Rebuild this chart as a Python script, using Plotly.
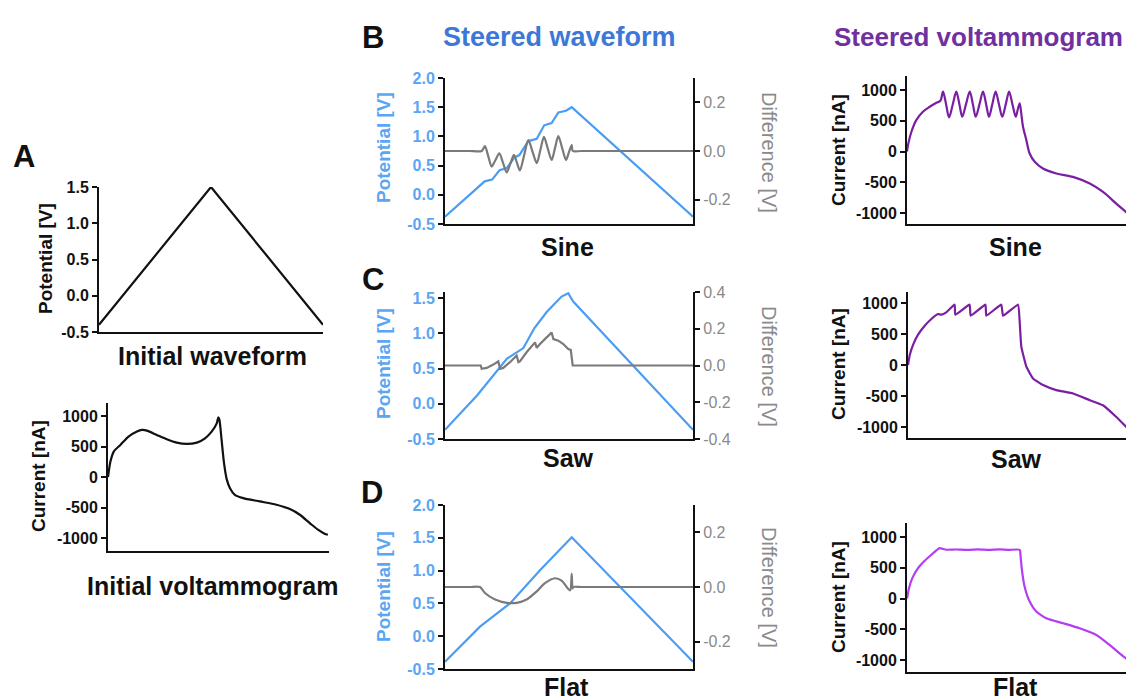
import plotly.graph_objects as go

# ---------------- data (x = normalised time 0..1) ----------------
init_wave_x = [0.0, 0.5, 1.0]
init_wave_y = [-0.4, 1.5, -0.4]

init_volt_x = [0.0, 0.011, 0.026, 0.056, 0.093, 0.131, 0.153, 0.176, 0.221, 0.266, 0.311, 0.356,
               0.402, 0.439, 0.469, 0.492, 0.499, 0.504, 0.514, 0.525, 0.537, 0.552, 0.574, 0.612,
               0.687, 0.762, 0.823, 0.868, 0.913, 0.950, 0.980, 0.995]
init_volt_y = [0, 253, 417, 526, 662, 744, 771, 760, 689, 619, 564, 542,
               564, 635, 744, 880, 978, 940, 608, 226, -35, -183, -292, -346,
               -400, -455, -526, -619, -755, -864, -929, -946]

# Steered waveforms: potential (left axis) and difference (right axis)
sine_pot_x = [0, 0.16, 0.19, 0.22, 0.25, 0.28, 0.30, 0.336, 0.37, 0.40, 0.43, 0.457, 0.488, 0.511, 1.0]
sine_pot_y = [-0.375, 0.23, 0.26, 0.42, 0.46, 0.64, 0.68, 0.92, 0.96, 1.19, 1.23, 1.41, 1.44, 1.50, -0.375]
sine_diff_x = [0, 0.05, 0.10, 0.148, 0.161, 0.1745, 0.188, 0.2035, 0.219, 0.234, 0.249, 0.2635,
               0.278, 0.290, 0.302, 0.319, 0.336, 0.353, 0.370, 0.3845, 0.399, 0.4145, 0.430,
               0.4435, 0.457, 0.4725, 0.488, 0.4995, 0.511, 0.515, 0.55, 0.70, 0.85, 1.0]
sine_diff_y = [0, 0, 0, 0, 0.020, -0.022, -0.064, -0.037, -0.010, -0.049, -0.088, -0.052,
               -0.016, -0.048, -0.080, -0.018, 0.045, -0.003, -0.050, 0.004, 0.058, 0.010, -0.037,
               0.012, 0.061, 0.012, -0.037, -0.006, 0.024, 0, 0, 0, 0, 0]

saw_pot_x = [0, 0.13, 0.25, 0.316, 0.36, 0.41, 0.47, 0.497, 0.51, 0.517, 1.0]
saw_pot_y = [-0.37, 0.12, 0.64, 0.79, 1.07, 1.30, 1.52, 1.567, 1.49, 1.45, -0.37]
saw_diff_x = [0, 0.144, 0.148, 0.168, 0.195, 0.215, 0.222, 0.235, 0.262, 0.289, 0.296, 0.302,
              0.329, 0.350, 0.363, 0.370, 0.383, 0.410, 0.430, 0.437, 0.457, 0.477, 0.497,
              0.507, 0.511, 0.515, 1.0]
saw_diff_y = [0, 0, -0.018, -0.013, 0.005, 0.023, -0.018, -0.013, 0.018, 0.054, 0.018, 0.022,
              0.072, 0.108, 0.126, 0.096, 0.117, 0.153, 0.180, 0.144, 0.135, 0.117, 0.090,
              0.085, 0.054, 0, 0]

flat_pot_x = [0, 0.141, 0.262, 0.383, 0.511, 1.0]
flat_pot_y = [-0.389, 0.145, 0.50, 1.006, 1.507, -0.389]
flat_diff_x = [0, 0.05, 0.10, 0.141, 0.161, 0.202, 0.249, 0.289, 0.329, 0.370, 0.403, 0.444, 0.470,
               0.497, 0.505, 0.511, 0.514, 0.517, 0.55, 0.70, 0.85, 1.0]
flat_diff_y = [0, 0, 0, 0, -0.022, -0.046, -0.058, -0.058, -0.046, -0.016, 0.014, 0.032, 0.023,
               -0.007, -0.012, 0.048, -0.005, 0, 0, 0, 0, 0]

# Steered voltammograms (current, nA)
sine_volt_x = [0, 0.006, 0.020, 0.042, 0.072, 0.103, 0.133, 0.151, 0.163, 0.177, 0.190, 0.207,
               0.223, 0.237, 0.250, 0.267, 0.284, 0.298, 0.311, 0.328, 0.344, 0.358, 0.371,
               0.386, 0.401, 0.416, 0.431, 0.447, 0.462, 0.477, 0.492, 0.501, 0.510, 0.517,
               0.525, 0.540, 0.555, 0.578, 0.615, 0.676, 0.751, 0.827, 0.887, 0.947, 1.0]
sine_volt_y = [0, 130, 321, 511, 647, 728, 793, 826, 973, 765, 554, 765,
               973, 770, 565, 770, 973, 770, 565, 770, 973, 770, 565,
               770, 973, 770, 565, 770, 973, 770, 565, 680, 783, 620,
               402, 185, -32, -168, -277, -358, -413, -522, -658, -848, -1011]

saw_volt_x = [0, 0.008, 0.023, 0.045, 0.076, 0.106, 0.136, 0.152, 0.174, 0.212, 0.215, 0.280,
              0.285, 0.352, 0.356, 0.424, 0.432, 0.500, 0.508, 0.515, 0.538, 0.568, 0.614,
              0.674, 0.750, 0.826, 0.886, 0.947, 1.0]
saw_volt_y = [0, 162, 324, 486, 632, 741, 822, 811, 849, 973, 811, 973,
              795, 973, 795, 973, 795, 973, 676, 297, -27, -216, -324,
              -405, -459, -567, -649, -838, -1027]

flat_volt_x = [0, 0.009, 0.024, 0.050, 0.080, 0.110, 0.140, 0.148, 0.178, 0.22, 0.27, 0.32,
               0.37, 0.42, 0.46, 0.510, 0.514, 0.520, 0.532, 0.555, 0.585, 0.630, 0.706,
               0.781, 0.857, 0.917, 0.962, 1.0]
flat_volt_y = [0, 168, 331, 495, 614, 712, 804, 820, 793, 797, 790, 800,
               792, 798, 790, 793, 685, 467, 196, -49, -212, -321, -402,
               -484, -592, -755, -891, -1000]

# tick labels
pot_ticks_a = [-0.5, 0.0, 0.5, 1.0, 1.5]
pot_ticks_bd = [-0.5, 0.0, 0.5, 1.0, 1.5, 2.0]
pot_ticks_c = [-0.5, 0.0, 0.5, 1.0, 1.5]
diff_ticks_bd = [-0.2, 0.0, 0.2]
diff_ticks_c = [-0.4, -0.2, 0.0, 0.2, 0.4]
cur_ticks = [-1000, -500, 0, 500, 1000]

# ---------------- style ----------------
W, H = 1134, 699
OFF = 8  # the page body margin offsets the figure by 8 px
FONT = "Liberation Sans, Arial, sans-serif"
BLACK = "#111111"
BLUE = "#4A9DF2"
BLUE_TXT = "#5AA6F2"
GRAY = "#7A7A7A"
GRAY_TXT = "#8A8A8A"
PURPLE = "#7A1FA2"
FLATPURPLE = "#B43CF2"


def fx(px):
    return (px - OFF) / W


def fy(py):
    return 1 - (py - OFF) / H


def lab(v):
    return "%.1f" % v


fig = go.Figure()
layout = dict(width=W, height=H, margin=dict(l=0, r=0, t=0, b=0, pad=0, autoexpand=False),
              paper_bgcolor="white", plot_bgcolor="white", showlegend=False,
              font=dict(family=FONT, color=BLACK))


def xaxis(name, x0, x1, anchor):
    layout[name] = dict(domain=[fx(x0), fx(x1)], range=[0, 1], anchor=anchor, automargin=False,
                        showline=True, linecolor=BLACK, linewidth=2, showgrid=False,
                        zeroline=False, showticklabels=False, ticks="", fixedrange=True)


def yaxis(name, y0, y1, rng, tv, tt, anchor, color=BLACK, side="left", overlay=None,
          bold=True, size=16):
    d = dict(domain=[fy(y1), fy(y0)], range=rng, anchor=anchor, side=side, automargin=False,
             showline=True, linecolor=BLACK, linewidth=2, showgrid=False, zeroline=False,
             ticks="outside", ticklen=5, tickwidth=2, tickcolor=BLACK,
             tickvals=tv, ticktext=tt,
             tickfont=dict(family=FONT, size=size, color=color,
                           weight="bold" if bold else "normal"))
    if overlay:
        d["overlaying"] = overlay
    layout[name] = d


def line(x, y, xa, ya, color, shape="linear", width=2.2, smoothing=0.6):
    fig.add_trace(go.Scatter(x=x, y=y, xaxis=xa, yaxis=ya, mode="lines",
                             line=dict(color=color, width=width, shape=shape,
                                       smoothing=smoothing if shape == "spline" else None),
                             cliponaxis=False, hoverinfo="skip"))


# Panel A
xaxis("xaxis", 99, 323, "y")
yaxis("yaxis", 187, 332, [-0.5, 1.5], pot_ticks_a, [lab(v) for v in pot_ticks_a], "x")
line(init_wave_x, init_wave_y, "x", "y", BLACK)

xaxis("xaxis2", 108, 329, "y2")
yaxis("yaxis2", 403, 551, [-1213, 1213], cur_ticks, [str(v) for v in cur_ticks], "x2")
line(init_volt_x, init_volt_y, "x2", "y2", BLACK, shape="spline", smoothing=0.7)

# Waveforms B, C, D
wave_rows = [
    ("xaxis3", "x3", "yaxis3", "y3", "yaxis4", "y4", 78, 224, [-0.5, 2.0], pot_ticks_bd,
     [-0.3, 0.3], diff_ticks_bd, sine_pot_x, sine_pot_y, sine_diff_x, sine_diff_y, "spline"),
    ("xaxis4", "x4", "yaxis5", "y5", "yaxis6", "y6", 292, 439, [-0.5, 1.585], pot_ticks_c,
     [-0.4, 0.4], diff_ticks_c, saw_pot_x, saw_pot_y, saw_diff_x, saw_diff_y, "linear"),
    ("xaxis5", "x5", "yaxis7", "y7", "yaxis8", "y8", 505, 669, [-0.5, 2.0], pot_ticks_bd,
     [-0.3, 0.3], diff_ticks_bd, flat_pot_x, flat_pot_y, flat_diff_x, flat_diff_y, "spline"),
]
for (xn, xr, yln, ylr, yrn, yrr, y0, y1, lr, lt, rr, rt, px, py, dx, dy, dshape) in wave_rows:
    xaxis(xn, 445, 693, ylr)
    yaxis(yln, y0, y1, lr, lt, [lab(v) for v in lt], xr, color=BLUE_TXT)
    yaxis(yrn, y0, y1, rr, rt, [lab(v) for v in rt], xr, color=GRAY_TXT, side="right",
          overlay=ylr, bold=False, size=16)
    line(dx, dy, xr, yrr, GRAY, shape=dshape, smoothing=0.8)
    line(px, py, xr, ylr, BLUE)

# Voltammograms
volt_rows = [
    ("xaxis6", "x6", "yaxis9", "y9", 907, 76, 224, [-1179, 1228], sine_volt_x, sine_volt_y, PURPLE, 0.9),
    ("xaxis7", "x7", "yaxis10", "y10", 908, 292, 438, [-1177, 1177], saw_volt_x, saw_volt_y, PURPLE, 0.35),
    ("xaxis8", "x8", "yaxis11", "y11", 907, 523, 672, [-1195, 1228], flat_volt_x, flat_volt_y, FLATPURPLE, 0.5),
]
for (xn, xr, yn, yr, x0, y0, y1, rng, vx, vy, col, sm) in volt_rows:
    xaxis(xn, x0, 1128, yr)
    yaxis(yn, y0, y1, rng, cur_ticks, [str(v) for v in cur_ticks], xr)
    line(vx, vy, xr, yr, col, shape="spline", smoothing=sm)

fig.update_layout(**layout)

# ---------------- text ----------------
def text(t, x, y, size, color=BLACK, bold=True, angle=0):
    fig.add_annotation(text=t, x=fx(x), y=fy(y), xref="paper", yref="paper",
                       xanchor="center", yanchor="middle", showarrow=False, textangle=angle,
                       font=dict(family=FONT, size=size, color=color,
                                 weight="bold" if bold else "normal"))

for letter, x, y in [("A", 24, 157), ("B", 373, 37), ("C", 373, 280), ("D", 372, 492)]:
    text(letter, x, y, 31)

text("Steered waveform", 559, 37, 27, color="#3C78D8")
text("Steered voltammogram", 978, 37, 26, color="#7030A0")

for t, x, y in [("Initial waveform", 212, 356), ("Initial voltammogram", 212, 586),
                ("Sine", 567, 247), ("Sine", 1015, 247), ("Saw", 568, 458), ("Saw", 1016, 459),
                ("Flat", 566, 687), ("Flat", 1015, 687)]:
    text(t, x, y, 25)

text("Potential [V]", 45, 259, 19, angle=-90)
text("Current [nA]", 38, 476, 19, angle=-90)
for y in [148, 364, 587]:
    text("Potential [V]", 383, y, 19, color=BLUE_TXT, angle=-90)
for y in [152, 366, 587]:
    text("Difference [V]", 769, y, 20, color=GRAY_TXT, bold=False, angle=90)
for y in [150, 364, 597]:
    text("Current [nA]", 838, y, 19, angle=-90)

fig.write_html("out.html")
